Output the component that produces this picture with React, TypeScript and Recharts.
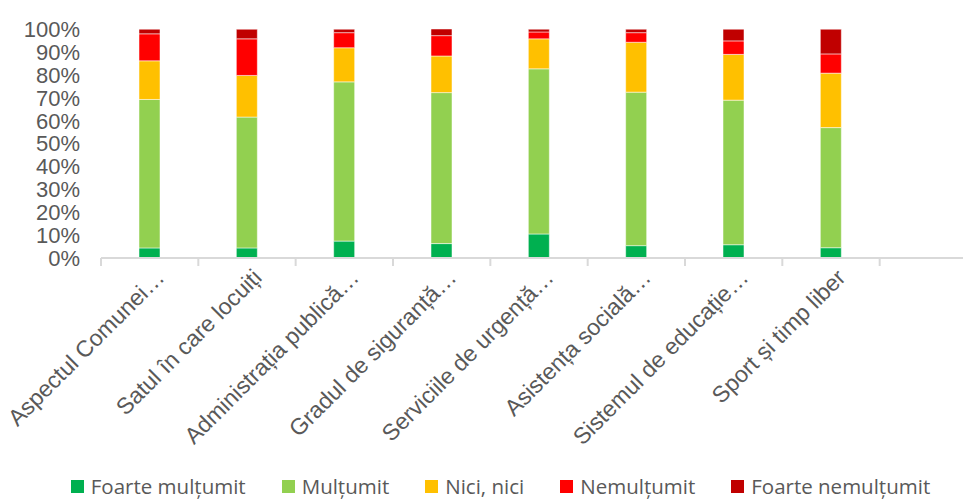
import React from 'react';
import { BarChart, Bar, XAxis, YAxis, Legend } from 'recharts';

const categories = [
  'Aspectul Comunei…',
  'Satul în care locuiți',
  'Administrația publică…',
  'Gradul de siguranță…',
  'Serviciile de urgență…',
  'Asistența socială…',
  'Sistemul de educație…',
  'Sport și timp liber',
  '',
];

const foarteMultumit = [4.4, 4.4, 7.4, 6.3, 10.5, 5.4, 5.8, 4.5, null];
const multumit = [64.9, 57.2, 69.6, 66.0, 72.2, 67.1, 63.2, 52.5, null];
const niciNici = [16.9, 18.2, 14.9, 16.0, 13.1, 21.8, 20.0, 23.8, null];
const nemultumit = [11.8, 16.0, 6.6, 8.9, 3.0, 4.2, 5.9, 8.4, null];
const foarteNemultumit = [2.0, 4.2, 1.5, 2.9, 1.2, 1.5, 5.1, 10.8, null];

const yTicks = [0, 10, 20, 30, 40, 50, 60, 70, 80, 90, 100];

const series = [
  { key: 'foarteMultumit', name: 'Foarte mulțumit', color: '#00B050' },
  { key: 'multumit', name: 'Mulțumit', color: '#92D050' },
  { key: 'niciNici', name: 'Nici, nici', color: '#FFC000' },
  { key: 'nemultumit', name: 'Nemulțumit', color: '#FF0000' },
  { key: 'foarteNemultumit', name: 'Foarte nemulțumit', color: '#C00000' },
];

const data = categories.map((name, i) => ({
  name,
  foarteMultumit: foarteMultumit[i],
  multumit: multumit[i],
  niciNici: niciNici[i],
  nemultumit: nemultumit[i],
  foarteNemultumit: foarteNemultumit[i],
}));

const CHART_W = 1001;
const PLOT_LEFT = 101;
const PLOT_RIGHT = 977;
const STEP = (PLOT_RIGHT - PLOT_LEFT) / categories.length;

// category labels rotated, tick marks drawn between categories like Excel
const XTick = (props: any) => {
  const { x, y, payload, index } = props;
  const left = x - STEP / 2;
  return (
    <g>
      <line x1={left} y1={y} x2={left} y2={y + 8} stroke="#d9d9d9" strokeWidth={2} />
      {index === categories.length - 1 && (
        <line x1={x + STEP / 2} y1={y} x2={x + STEP / 2} y2={y + 8} stroke="#d9d9d9" strokeWidth={2} />
      )}
      {payload.value && (
        <g transform={`translate(${x + 16},${y + 21})`}>
          <text
            transform="rotate(-45)"
            textAnchor="end"
            fill="#595959"
            fontSize={23}
            fontFamily="'Liberation Sans', Arial, sans-serif"
          >
            {payload.value}
          </text>
        </g>
      )}
    </g>
  );
};

const LegendContent = () => (
  <div
    style={{
      display: 'flex',
      justifyContent: 'center',
      alignItems: 'center',
      fontFamily: "'Open Sans', sans-serif",
      fontSize: 20.5,
      color: '#595959',
      height: 20,
      lineHeight: '20px',
    }}
  >
    {series.map((s, i) => (
      <div
        key={s.key}
        style={{ display: 'flex', alignItems: 'center', marginRight: i < series.length - 1 ? 36 : 0 }}
      >
        <span style={{ width: 13, height: 13, background: s.color, marginRight: 7, display: 'inline-block' }} />
        <span>{s.name}</span>
      </div>
    ))}
  </div>
);

const App: React.FC = () => {
  return (
    <div style={{ position: 'absolute', left: 0, top: 0, width: 963, height: 500, overflow: 'hidden', background: '#fff' }}>
      <BarChart
        width={CHART_W}
        height={500}
        data={data}
        margin={{ top: 29, right: CHART_W - PLOT_RIGHT, bottom: 0, left: 0 }}
        barSize={21}
      >
        <XAxis
          dataKey="name"
          interval={0}
          axisLine={{ stroke: '#d9d9d9', strokeWidth: 2 }}
          tickLine={false}
          tickSize={0}
          tickMargin={0}
          height={242}
          tick={<XTick />}
        />
        <YAxis
          width={PLOT_LEFT}
          domain={[0, 100]}
          ticks={yTicks}
          interval={0}
          tickFormatter={(v: number) => `${v}%`}
          axisLine={false}
          tickLine={false}
          tickSize={0}
          tickMargin={21}
          tick={{ fill: '#595959', fontSize: 22, fontFamily: "'Liberation Sans', Arial, sans-serif" }}
        />
        <Legend
          layout="horizontal"
          verticalAlign="middle"
          content={<LegendContent />}
          wrapperStyle={{ top: 476, left: 0, width: CHART_W, height: 20 }}
        />
        {series.map((s) => (
          <Bar
            key={s.key}
            dataKey={s.key}
            name={s.name}
            stackId="a"
            fill={s.color}
            stroke="#ffffff"
            strokeWidth={0.5}
            isAnimationActive={false}
          />
        ))}
      </BarChart>
    </div>
  );
};

export default App;
